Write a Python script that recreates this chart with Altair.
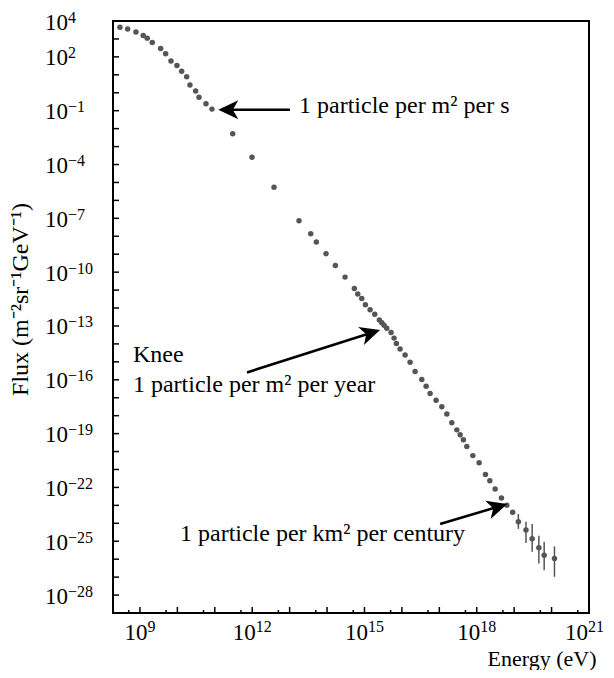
import math
import altair as alt
import pandas as pd

# ---------------- data (log10 units) ----------------
energy_log10 = [8.465, 8.671, 8.893, 9.088, 9.195, 9.329, 9.553, 9.687, 9.829, 9.989,
                10.115, 10.249, 10.337, 10.489, 10.578, 10.765, 10.925, 11.479, 11.995, 12.583,
                13.251, 13.564, 13.714, 13.973, 14.222, 14.481, 14.730, 14.821, 14.928, 15.024,
                15.150, 15.275, 15.398, 15.463, 15.524, 15.596, 15.711, 15.791, 15.853, 15.952,
                16.086, 16.219, 16.353, 16.532, 16.647, 16.754, 16.914, 17.067, 17.201, 17.334,
                17.468, 17.556, 17.644, 17.735, 17.896, 18.064, 18.233, 18.350, 18.492, 18.660,
                18.805, 18.960, 19.112, 19.316, 19.481, 19.660, 19.802, 20.077]
flux_log10 = [3.652, 3.558, 3.393, 3.189, 3.045, 2.802, 2.471, 2.179, 1.776, 1.517,
              1.202, 0.893, 0.429, 0.098, -0.249, -0.619, -0.912, -2.291, -3.599, -5.272,
              -7.131, -7.865, -8.323, -8.969, -9.631, -10.277, -10.917, -11.215, -11.469, -11.822,
              -12.098, -12.352, -12.667, -12.816, -12.959, -13.125, -13.368, -13.677, -13.975, -14.284,
              -14.615, -15.023, -15.536, -15.978, -16.364, -16.767, -17.137, -17.507, -17.910, -18.390,
              -18.792, -19.068, -19.344, -19.714, -20.227, -20.630, -21.276, -21.624, -22.087, -22.589,
              -22.987, -23.389, -23.909, -24.367, -24.864, -25.360, -25.785, -25.967]

err_energy_log10 = [19.112, 19.316, 19.481, 19.660, 19.802, 20.077]
err_hi_log10 = [-23.483, -23.909, -24.035, -24.698, -25.030, -25.289]
err_lo_log10 = [-24.311, -25.101, -25.580, -26.240, -26.615, -26.984]

x_label_exps = [9, 12, 15, 18, 21]
y_label_exps = [4, 2, -1, -4, -7, -10, -13, -16, -19, -22, -25, -28]
x_major_exps = list(range(9, 22))
x_minor_exps = list(range(8, 21))          # ticks at 5 x 10^n
y_tick_exps = list(range(-28, 5))

# annotations: text (log10 energy, log10 flux of the left baseline point)
ann_text = ["1 particle per m\u00b2 per s", "Knee", "1 particle per m\u00b2 per year",
            "1 particle per km\u00b2 per century"]
ann_text_x = [13.251, 8.813, 8.813, 10.070]
ann_text_y = [-1.132, -15.023, -16.680, -25.010]

# arrows: tail and tip (log10 energy, log10 flux)
arrow_tail_x = [13.011, 11.861, 17.021]
arrow_tail_y = [-0.950, -15.592, -24.035]
arrow_tip_x = [11.094, 15.417, 18.813]
arrow_tip_y = [-0.950, -13.219, -22.930]

# ---------------- geometry / scales ----------------
W, H = 476, 592
X_DOM = (8.28, 21.0)
Y_DOM = (-29.0, 4.0)
PXX = W / (X_DOM[1] - X_DOM[0])
PXY = H / (Y_DOM[1] - Y_DOM[0])
RIGHT_PAD = 17

xs = alt.Scale(type="log", domain=[10 ** X_DOM[0], 10 ** X_DOM[1]], nice=False)
ys = alt.Scale(type="log", domain=[10 ** Y_DOM[0], 10 ** Y_DOM[1]], nice=False)

FONT = "Liberation Serif"
BASE_FS = 23
EXP_FS = 16
ANN_FS = 24
TITLE_FS = 22
MINUS = "\u2212"


def exp_str(n):
    return (MINUS + str(-n)) if n < 0 else str(n)


def exp_width(n):
    s = str(abs(n))
    return 0.5 * EXP_FS * len(s) + (0.564 * EXP_FS if n < 0 else 0)


xa = alt.Axis(labels=False, ticks=False, domain=False, grid=False,
              title="Energy (eV)", titleFont=FONT, titleFontSize=TITLE_FS, titleFontWeight="normal",
              titleColor="black", titleX=483, titleY=52, titleAlign="right",
              titleBaseline="alphabetic")
ya = alt.Axis(labels=False, ticks=False, domain=False, grid=False,
              title="Flux (m\u207b\u00b2sr\u207b\u00b9GeV\u207b\u00b9)", titleFont=FONT,
              titleFontSize=ANN_FS, titleFontWeight="normal", titleColor="black",
              titleX=-93, titleY=278, titleAngle=270, titleAlign="center",
              titleBaseline="middle")

pts = pd.DataFrame({"E": [10 ** v for v in energy_log10], "F": [10 ** v for v in flux_log10]})
errs = pd.DataFrame({"E": [10 ** v for v in err_energy_log10],
                     "lo": [10 ** v for v in err_lo_log10],
                     "hi": [10 ** v for v in err_hi_log10]})

points = alt.Chart(pts).mark_circle(size=30, color="#555555", opacity=1).encode(
    x=alt.X("E:Q", scale=xs, axis=xa),
    y=alt.Y("F:Q", scale=ys, axis=ya),
)

errbars = alt.Chart(errs).mark_rule(color="#555555", strokeWidth=1.5).encode(
    x=alt.X("E:Q", scale=xs, axis=xa),
    y=alt.Y("lo:Q", scale=ys, axis=ya),
    y2="hi:Q",
)

# inward ticks
xmaj = pd.DataFrame({"v": [10 ** n for n in x_major_exps]})
xmin = pd.DataFrame({"v": [5 * 10 ** n for n in x_minor_exps]})
ytk = pd.DataFrame({"v": [10 ** n for n in y_tick_exps]})

xmaj_ticks = alt.Chart(xmaj).mark_rule(color="black", strokeWidth=1.5).encode(
    x=alt.X("v:Q", scale=xs, axis=xa), y=alt.value(H), y2=alt.value(H - 6))
xmin_ticks = alt.Chart(xmin).mark_rule(color="black", strokeWidth=1.5).encode(
    x=alt.X("v:Q", scale=xs, axis=xa), y=alt.value(H), y2=alt.value(H - 3))
y_ticks = alt.Chart(ytk).mark_rule(color="black", strokeWidth=1.5).encode(
    y=alt.Y("v:Q", scale=ys, axis=ya), x=alt.value(0), x2=alt.value(6))

# tick labels: "10" plus a raised exponent
xl_rows = []
for n in x_label_exps:
    total = BASE_FS + exp_width(n)
    tick_px = (n - X_DOM[0]) * PXX
    left = -total / 2.0
    # keep the last label inside the picture
    left = min(left, (W + RIGHT_PAD - 2) - tick_px - total)
    xl_rows.append({"base": "10", "exp": exp_str(n),
                    "xb": 10 ** (n + left / PXX), "xe": 10 ** (n + (left + BASE_FS) / PXX)})
xl = pd.DataFrame(xl_rows)
x_lab_base = alt.Chart(xl).mark_text(align="left", baseline="alphabetic", font=FONT,
                                     fontSize=BASE_FS, color="black").encode(
    x=alt.X("xb:Q", scale=xs, axis=xa), y=alt.value(H + 27), text="base:N")
x_lab_exp = alt.Chart(xl).mark_text(align="left", baseline="alphabetic", font=FONT,
                                    fontSize=EXP_FS, color="black").encode(
    x=alt.X("xe:Q", scale=xs, axis=xa), y=alt.value(H + 19), text="exp:N")

yl = pd.DataFrame({"v": [10 ** n for n in y_label_exps], "base": ["10"] * len(y_label_exps),
                   "exp": [exp_str(n) for n in y_label_exps]})
Y_LAB_LEFT = -68
y_lab_base = alt.Chart(yl).mark_text(align="left", baseline="alphabetic", font=FONT,
                                     fontSize=BASE_FS, color="black", dy=8.5).encode(
    y=alt.Y("v:Q", scale=ys, axis=ya), x=alt.value(Y_LAB_LEFT), text="base:N")
y_lab_exp = alt.Chart(yl).mark_text(align="left", baseline="alphabetic", font=FONT,
                                    fontSize=EXP_FS, color="black", dy=1.5).encode(
    y=alt.Y("v:Q", scale=ys, axis=ya), x=alt.value(Y_LAB_LEFT + BASE_FS), text="exp:N")

# annotations
texts = pd.DataFrame({"t": ann_text, "E": [10 ** v for v in ann_text_x], "F": [10 ** v for v in ann_text_y]})
text_layer = alt.Chart(texts).mark_text(align="left", baseline="alphabetic", font=FONT,
                                        fontSize=ANN_FS, color="black").encode(
    x=alt.X("E:Q", scale=xs, axis=xa), y=alt.Y("F:Q", scale=ys, axis=ya), text="t:N")

HEAD = 20.0
rows = []
for tx, ty, hx, hy in zip(arrow_tail_x, arrow_tail_y, arrow_tip_x, arrow_tip_y):
    dxp = (hx - tx) * PXX
    dyp = -(hy - ty) * PXY
    ang = math.atan2(dyp, dxp)
    shaft_end_x = hx - 0.7 * HEAD * math.cos(ang) / PXX
    shaft_end_y = hy + 0.7 * HEAD * math.sin(ang) / PXY
    rows.append({"x0": 10 ** tx, "y0": 10 ** ty, "x1": 10 ** shaft_end_x, "y1": 10 ** shaft_end_y,
                 "hx": 10 ** hx, "hy": 10 ** hy, "ang": math.degrees(ang) % 360})
arrows = pd.DataFrame(rows)

shafts = alt.Chart(arrows).mark_rule(color="black", strokeWidth=2.6).encode(
    x=alt.X("x0:Q", scale=xs, axis=xa), y=alt.Y("y0:Q", scale=ys, axis=ya),
    x2="x1:Q", y2="y1:Q")

head_path = "M0,0 L-2,-0.95 L-1.45,0 L-2,0.95 Z"
heads = alt.Chart(arrows).mark_point(shape=head_path, filled=True, color="black", opacity=1,
                                     size=HEAD * HEAD, strokeWidth=0).encode(
    x=alt.X("hx:Q", scale=xs, axis=xa), y=alt.Y("hy:Q", scale=ys, axis=ya),
    angle=alt.Angle("ang:Q", scale=None))

chart = alt.layer(points, errbars, xmaj_ticks, xmin_ticks, y_ticks,
                  x_lab_base, x_lab_exp, y_lab_base, y_lab_exp,
                  text_layer, shafts, heads).properties(
    width=W, height=H,
    autosize=alt.AutoSizeParams(type="none"),
    padding={"left": 105, "top": 13, "right": RIGHT_PAD, "bottom": 57},
    background="white",
).configure_view(stroke="black", strokeWidth=2, clip=False)

chart.save("out.html", embed_options={"renderer": "svg", "actions": False})
